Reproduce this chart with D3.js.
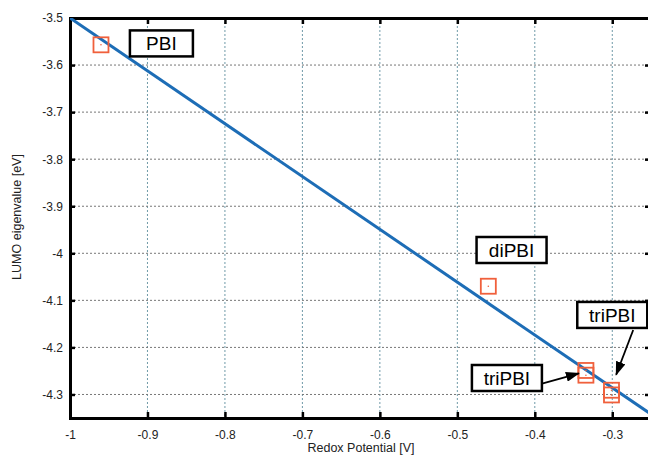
<!DOCTYPE html>
<html>
<head>
<meta charset="utf-8">
<script src="https://cdn.jsdelivr.net/npm/d3@7"></script>
<style>
  body { margin: 0; background: #fff; }
  text { font-family: "Liberation Sans", Arial, sans-serif; }
</style>
</head>
<body>
<div id="chart"></div>
<script>
"use strict";

// data
var xTicks = [-1, -0.9, -0.8, -0.7, -0.6, -0.5, -0.4, -0.3];
var yTicks = [-3.5, -3.6, -3.7, -3.8, -3.9, -4, -4.1, -4.2, -4.3];
var pointX = [-0.96, -0.46, -0.334, -0.334, -0.301, -0.301];
var pointY = [-3.557, -4.070, -4.249, -4.259, -4.291, -4.301];
var fitX = [-1, -0.25];
var fitY = [-3.5, -4.342];
var labelText = ["PBI", "diPBI", "triPBI", "triPBI"];
var labelX = [-0.882, -0.430, -0.300, -0.436];
var labelY = [-3.554, -3.993, -4.131, -4.265];
var labelW = [63, 70, 70, 70];
// arrows: from (x0,y0) to (x1,y1), in data units
var arrowFromX = [-0.393, -0.273];
var arrowFromY = [-4.278, -4.163];
var arrowToX = [-0.343, -0.295];
var arrowToY = [-4.255, -4.258];

var width = 648, height = 457;
var margin = { left: 70, top: 18, right: -3, bottom: 39 };

var svg = d3.select("#chart").append("svg")
    .attr("width", width)
    .attr("height", height);

var x = d3.scaleLinear().domain([-1, -0.25]).range([margin.left, width - margin.right]);
var y = d3.scaleLinear().domain([-3.5, -4.35]).range([margin.top, height - margin.bottom]);

var defs = svg.append("defs");
defs.append("clipPath").attr("id", "clip")
    .append("rect")
    .attr("x", x(-1)).attr("y", y(-3.5))
    .attr("width", x(-0.25) - x(-1)).attr("height", y(-4.35) - y(-3.5));
defs.append("marker")
    .attr("id", "arrow")
    .attr("markerUnits", "userSpaceOnUse")
    .attr("viewBox", "0 0 14 10")
    .attr("refX", 13).attr("refY", 5)
    .attr("markerWidth", 14).attr("markerHeight", 10)
    .attr("orient", "auto")
    .append("path")
    .attr("d", "M0,0 L14,5 L0,10 Z")
    .attr("fill", "#000");

//grid lines
var grid = svg.append("g").attr("clip-path", "url(#clip)");
grid.selectAll("line.vg")
    .data(xTicks.slice(1))
    .enter().append("line")
    .attr("class", "vg")
    .attr("x1", function (d) { return x(d); })
    .attr("x2", function (d) { return x(d); })
    .attr("y1", y(-3.5)).attr("y2", y(-4.35))
    .attr("stroke", "#6f9aa8")
    .attr("stroke-width", 1)
    .attr("stroke-dasharray", "2,2");
grid.selectAll("line.hg")
    .data(yTicks.slice(1))
    .enter().append("line")
    .attr("class", "hg")
    .attr("x1", x(-1)).attr("x2", x(-0.25))
    .attr("y1", function (d) { return y(d); })
    .attr("y2", function (d) { return y(d); })
    .attr("stroke", "#777")
    .attr("stroke-width", 1)
    .attr("stroke-dasharray", "2,2");

//axes
var fmt = function (d) { return String(+d.toFixed(2)); };
var xAxis = svg.append("g")
    .attr("transform", "translate(0," + y(-4.35) + ")")
    .call(d3.axisBottom(x).tickValues(xTicks).tickSize(-6).tickPadding(12).tickFormat(fmt));
var xTop = svg.append("g")
    .attr("transform", "translate(0," + y(-3.5) + ")")
    .call(d3.axisTop(x).tickValues(xTicks).tickSize(-6).tickFormat(""));
var yAxis = svg.append("g")
    .attr("transform", "translate(" + x(-1) + ",0)")
    .call(d3.axisLeft(y).tickValues(yTicks).tickSize(-5).tickPadding(7).tickFormat(fmt));
var yRight = svg.append("g")
    .attr("transform", "translate(" + (x(-0.25) - 1) + ",0)")
    .call(d3.axisRight(y).tickValues(yTicks).tickSize(-5).tickFormat(""));

[xAxis, xTop, yAxis, yRight].forEach(function (a) {
    a.select(".domain").attr("stroke", "#000").attr("stroke-width", 3);
    a.selectAll(".tick line").attr("stroke", "#000").attr("stroke-width", 2.5);
    a.selectAll(".tick text").attr("font-size", 12).attr("fill", "#222")
        .style("font-family", "'Liberation Sans', Arial, sans-serif");
});

svg.append("text")
    .attr("x", 361)
    .attr("y", 452)
    .attr("text-anchor", "middle")
    .attr("font-size", 12.5)
    .attr("fill", "#222")
    .text("Redox Potential [V]");
svg.append("text")
    .attr("transform", "translate(21," + 217 + ") rotate(-90)")
    .attr("text-anchor", "middle")
    .attr("font-size", 12.5)
    .attr("fill", "#222")
    .text("LUMO eigenvalue [eV]");

//fit line
var plot = svg.append("g").attr("clip-path", "url(#clip)");
plot.append("line")
    .attr("x1", x(fitX[0])).attr("y1", y(fitY[0]))
    .attr("x2", x(fitX[1])).attr("y2", y(fitY[1]))
    .attr("stroke", "#1d6db6")
    .attr("stroke-width", 3);

//points
var pts = pointX.map(function (v, i) { return { x: v, y: pointY[i] }; });
var s = 15;
var pg = svg.append("g").selectAll("g")
    .data(pts).enter().append("g")
    .attr("transform", function (d) { return "translate(" + x(d.x) + "," + y(d.y) + ")"; });
pg.append("rect")
    .attr("x", -s / 2).attr("y", -s / 2)
    .attr("width", s).attr("height", s)
    .attr("fill", "none")
    .attr("stroke", "#f0603c")
    .attr("stroke-width", 1.8);
pg.append("circle")
    .attr("r", 0.8)
    .attr("fill", "#f0603c");

//arrows
arrowFromX.forEach(function (v, i) {
    svg.append("line")
        .attr("x1", x(v)).attr("y1", y(arrowFromY[i]))
        .attr("x2", x(arrowToX[i])).attr("y2", y(arrowToY[i]))
        .attr("stroke", "#000")
        .attr("stroke-width", 1.8)
        .attr("marker-end", "url(#arrow)");
});

//labels
var labels = svg.append("g").selectAll("g")
    .data(labelText).enter().append("g")
    .attr("transform", function (d, i) { return "translate(" + x(labelX[i]) + "," + y(labelY[i]) + ")"; });
labels.append("rect")
    .attr("x", function (d, i) { return -labelW[i] / 2; })
    .attr("y", -13)
    .attr("width", function (d, i) { return labelW[i]; })
    .attr("height", 26)
    .attr("fill", "#fff")
    .attr("stroke", "#000")
    .attr("stroke-width", 2.5);
labels.append("text")
    .attr("text-anchor", "middle")
    .attr("dy", "0.36em")
    .attr("font-size", 19)
    .attr("fill", "#000")
    .text(function (d) { return d; });
</script>
</body>
</html>
